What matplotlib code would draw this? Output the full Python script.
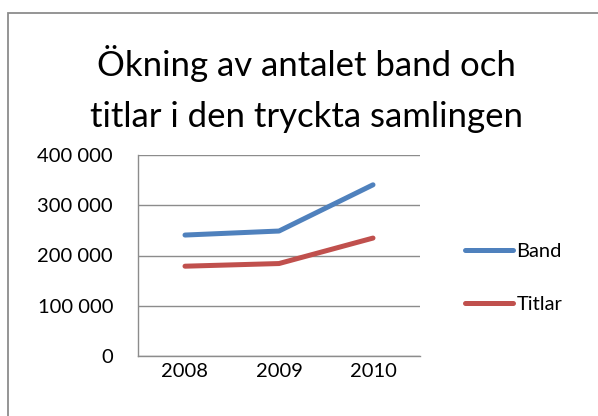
import matplotlib
matplotlib.use("Agg")
import matplotlib.pyplot as plt
from matplotlib.patches import Rectangle
from matplotlib.ticker import FuncFormatter

# Data
years = ["2008", "2009", "2010"]
band = [240700, 248700, 340700]
titlar = [178700, 184000, 234700]
y_ticks = [0, 100000, 200000, 300000, 400000]

W, H = 598, 416
plt.rcParams['font.family'] = ['Lato', 'DejaVu Sans']

fig = plt.figure(figsize=(W / 100, H / 100), dpi=100)

# Outer chart frame (cropped at right/bottom like the reference)
fig.patches.append(Rectangle((8 / W, -0.05), 1.1, 1 - 13 / H + 0.05,
                             transform=fig.transFigure, fill=False,
                             edgecolor='#8c8c8c', linewidth=1.3))

cx = 306 / W
fig.text(cx, 1 - 64 / H, "Ökning av antalet band och",
         ha='center', va='center', fontsize=25)
fig.text(cx, 1 - 117 / H, "titlar i den tryckta samlingen",
         ha='center', va='center', fontsize=25)

ax = fig.add_axes([138 / W, (H - 356) / H, 282 / W, 201 / H])
x = range(len(years))
ax.plot(x, band, color='#4F81BD', linewidth=3.6, solid_capstyle='round',
        solid_joinstyle='round', label='Band')
ax.plot(x, titlar, color='#C0504D', linewidth=3.6, solid_capstyle='round',
        solid_joinstyle='round', label='Titlar')

ax.set_xlim(-0.5, len(years) - 0.5)
ax.set_ylim(0, 400000)
ax.set_yticks(y_ticks)
ax.yaxis.set_major_formatter(FuncFormatter(lambda v, p: f"{int(v):,}".replace(",", " ")))
ax.set_xticks(list(x))
ax.set_xticklabels(years)
ax.tick_params(axis='both', length=0, labelsize=14.5, colors='black')
ax.tick_params(axis='y', pad=18)
ax.tick_params(axis='x', pad=5)

ax.grid(axis='y', color='#8c8c8c', linewidth=1)
ax.set_axisbelow(True)
for s in ['top', 'right']:
    ax.spines[s].set_visible(False)
for s in ['left', 'bottom']:
    ax.spines[s].set_color('#8c8c8c')
    ax.spines[s].set_linewidth(1)

fig.legend(loc='center left', bbox_to_anchor=(447 / W, 1 - 278 / H),
           frameon=False, fontsize=14.5, handlelength=2.4, handletextpad=0.15,
           labelspacing=1.75)

fig.savefig("out.png", dpi=100)
